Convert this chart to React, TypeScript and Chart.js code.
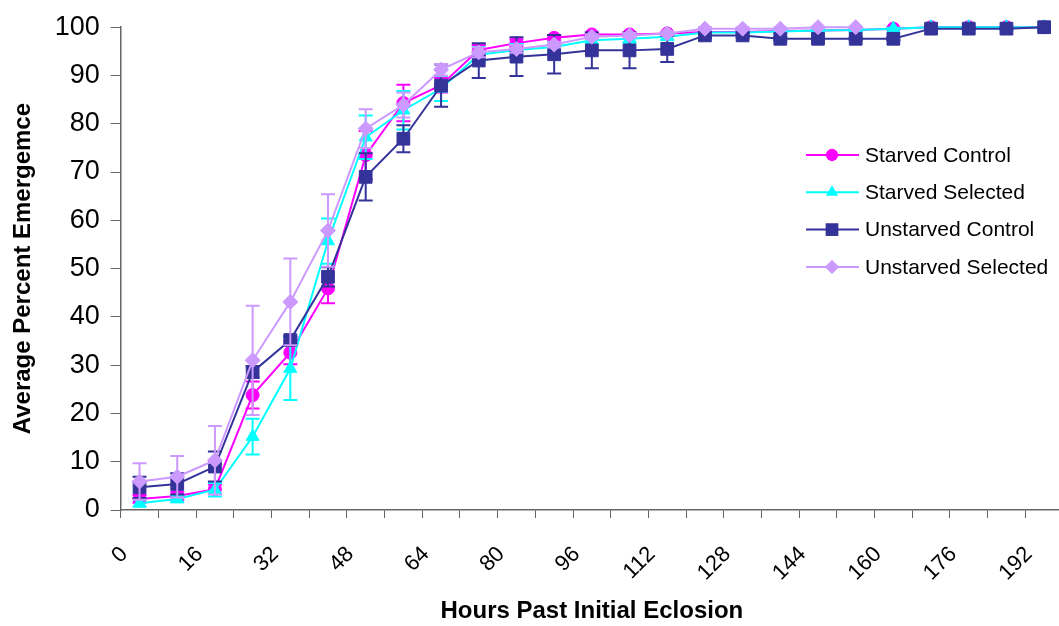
import React, { useEffect, useRef } from "react";
import { Chart, registerables } from "chart.js";

Chart.register(...registerables);

const hours = ["0", "8", "16", "24", "32", "40", "48", "56", "64", "72", "80", "88", "96", "104", "112", "120", "128", "136", "144", "152", "160", "168", "176", "184", "192"];

const seriesNames = ["Starved Control", "Starved Selected", "Unstarved Control", "Unstarved Selected"];
const seriesColors = ["#FF00FF", "#00FFFF", "#333399", "#CC99FF"];

const starvedControl = [2.3, 2.9, 4.3, 23.8, 32.6, 45.9, 73.5, 84.3, 88.0, 95.3, 96.7, 97.8, 98.5, 98.5, 98.7, 99.0, 99.0, 99.2, 99.3, 99.4, 99.7, 100, 100, 100, 100];
const starvedSelected = [1.4, 2.3, 4.2, 15.2, 29.3, 55.7, 77.2, 82.8, 87.3, 94.3, 95.3, 95.9, 97.3, 97.6, 98.0, 98.9, 98.9, 99.1, 99.3, 99.4, 99.7, 100, 100, 100, 100];
const unstarvedControl = [4.7, 5.4, 9.0, 28.6, 35.2, 48.3, 69.0, 76.9, 87.9, 93.1, 93.9, 94.4, 95.2, 95.2, 95.5, 98.3, 98.3, 97.6, 97.6, 97.6, 97.6, 99.7, 99.7, 99.7, 100];
const unstarvedSelected = [5.9, 6.9, 10.3, 31.0, 43.1, 57.9, 79.0, 83.9, 91.2, 94.8, 95.5, 96.4, 98.0, 98.3, 98.7, 99.7, 99.7, 99.7, 100, 100, null, null, null, null, null];

const starvedControlErr = [0.8, 0.9, 1.0, 2.8, 2.4, 3.1, 5.0, 3.8, 1.5, 1.0, 0.8, 0.6, 0.4, 0.4, 0.3, 0.3, 0.3, 0.3, 0.2, 0.2, 0.2, 0, 0, 0, 0];
const starvedSelectedErr = [0.7, 0.7, 1.4, 3.7, 6.5, 4.7, 4.5, 4.0, 2.6, 1.6, 1.2, 1.0, 0.8, 0.8, 0.6, 0.4, 0.4, 0.3, 0.3, 0.3, 0.2, 0, 0, 0, 0];
const unstarvedControlErr = [2.2, 2.2, 3.1, 1.2, 0.8, 2.0, 4.9, 2.8, 4.4, 3.6, 4.0, 4.0, 3.7, 3.7, 2.7, 0.5, 0.5, 0.3, 0.3, 0.3, 0.3, 0.2, 0.2, 0.2, 0];
const unstarvedSelectedErr = [3.8, 4.3, 7.1, 11.3, 9.0, 7.5, 4.0, 2.6, 1.2, 1.0, 0.8, 0.6, 0.5, 0.5, 0.4, 0.3, 0.3, 0.2, 0, 0, 0, 0, 0, 0, 0];

const pointStyles = ["circle", "triangle", "rect", "rectRot"];
const pointRadii = [6.5, 7.5, 9, 7.5];

const FONT = '"Liberation Sans", Arial, sans-serif';

function drawMarker(ctx: CanvasRenderingContext2D, style: string, x: number, y: number, r: number, color: string) {
  ctx.save();
  ctx.fillStyle = color;
  ctx.beginPath();
  if (style === "circle") {
    ctx.arc(x, y, r, 0, Math.PI * 2);
  } else if (style === "triangle") {
    ctx.moveTo(x, y - r);
    ctx.lineTo(x + r * Math.sin((2 * Math.PI) / 3), y - r * Math.cos((2 * Math.PI) / 3));
    ctx.lineTo(x + r * Math.sin((4 * Math.PI) / 3), y - r * Math.cos((4 * Math.PI) / 3));
    ctx.closePath();
  } else if (style === "rect") {
    const h = r / Math.SQRT2;
    ctx.rect(x - h, y - h, 2 * h, 2 * h);
  } else {
    ctx.moveTo(x, y - r);
    ctx.lineTo(x + r, y);
    ctx.lineTo(x, y + r);
    ctx.lineTo(x - r, y);
    ctx.closePath();
  }
  ctx.fill();
  ctx.restore();
}

export default function App() {
  const ref = useRef<HTMLCanvasElement>(null);

  useEffect(() => {
    document.body.style.margin = "0";
    const errs = [starvedControlErr, starvedSelectedErr, unstarvedControlErr, unstarvedSelectedErr];
    const values = [starvedControl, starvedSelected, unstarvedControl, unstarvedSelected];

    const errorBars = {
      id: "errorBars",
      beforeDatasetDraw(chart: any, args: any) {
        const i = args.index;
        const meta = args.meta;
        const ys = chart.scales.y;
        const ctx = chart.ctx as CanvasRenderingContext2D;
        ctx.save();
        ctx.strokeStyle = seriesColors[i];
        ctx.lineWidth = 2;
        meta.data.forEach((pt: any, j: number) => {
          const v = values[i][j];
          const e = errs[i][j];
          if (v == null || !e) return;
          const x = pt.x;
          const y1 = ys.getPixelForValue(v + e);
          const y2 = ys.getPixelForValue(v - e);
          ctx.beginPath();
          ctx.moveTo(x, y1);
          ctx.lineTo(x, y2);
          ctx.moveTo(x - 7, y1);
          ctx.lineTo(x + 7, y1);
          ctx.moveTo(x - 7, y2);
          ctx.lineTo(x + 7, y2);
          ctx.stroke();
        });
        ctx.restore();
      },
    };

    const xLabels = {
      id: "xLabels",
      afterDraw(chart: any) {
        const ctx = chart.ctx as CanvasRenderingContext2D;
        const xs = chart.scales.x;
        const bottom = chart.chartArea.bottom;
        ctx.save();
        ctx.font = `22px ${FONT}`;
        ctx.fillStyle = "#000";
        ctx.textAlign = "right";
        ctx.textBaseline = "alphabetic";
        hours.forEach((h, i) => {
          if (i % 2 !== 0) return;
          const cx = xs.getPixelForValue(i);
          ctx.save();
          ctx.translate(cx - 11, bottom + 45);
          ctx.rotate(-Math.PI / 4);
          ctx.fillText(h, 0, 0);
          ctx.restore();
        });
        ctx.restore();
      },
    };

    const customLegend = {
      id: "customLegend",
      afterDraw(chart: any) {
        const ctx = chart.ctx as CanvasRenderingContext2D;
        ctx.save();
        ctx.font = `21px ${FONT}`;
        ctx.textBaseline = "middle";
        ctx.textAlign = "left";
        seriesNames.forEach((name, k) => {
          const y = 155 + k * 37.3;
          ctx.strokeStyle = seriesColors[k];
          ctx.lineWidth = 2;
          ctx.beginPath();
          ctx.moveTo(806, y);
          ctx.lineTo(859, y);
          ctx.stroke();
          drawMarker(ctx, pointStyles[k], 832, y, pointRadii[k] * (k === 2 ? 1 : 0.95), seriesColors[k]);
          ctx.fillStyle = "#000";
          ctx.fillText(name, 865, y + 1);
        });
        ctx.restore();
      },
    };

    const chart = new Chart(ref.current!, {
      type: "line",
      data: {
        labels: hours,
        datasets: seriesNames.map((name, k) => ({
          label: name,
          data: values[k],
          borderColor: seriesColors[k],
          backgroundColor: seriesColors[k],
          pointBackgroundColor: seriesColors[k],
          pointBorderColor: seriesColors[k],
          pointBorderWidth: 1,
          pointStyle: pointStyles[k] as any,
          pointRadius: pointRadii[k],
          borderWidth: 2,
          tension: 0,
          clip: false as any,
          order: 3 - k,
        })),
      },
      options: {
        animation: false,
        responsive: true,
        maintainAspectRatio: false,
        layout: { autoPadding: false, padding: { top: 27, left: 0, right: 0, bottom: 0 } },
        plugins: {
          legend: { display: false },
          tooltip: { enabled: false },
        },
        scales: {
          x: {
            type: "category",
            offset: true,
            grid: { offset: true, drawOnChartArea: false, drawTicks: true, tickLength: 8, color: "#666", lineWidth: 1 },
            border: { display: true, color: "#666", width: 1.5 },
            ticks: {
              display: false,
              autoSkip: false,
            },
            title: {
              display: true,
              text: "Hours Past Initial Eclosion",
              color: "#000",
              font: { size: 24, weight: "bold", family: FONT },
              padding: { top: 0, bottom: 0 },
            },
            afterFit: (s: any) => {
              s.height = 116;
              s.paddingLeft = 0;
              s.paddingRight = 0;
            },
          },
          y: {
            min: 0,
            max: 100,
            grid: { drawOnChartArea: false, drawTicks: true, tickLength: 10, color: "#666", lineWidth: 1 },
            border: { display: true, color: "#666", width: 1.5 },
            ticks: {
              stepSize: 10,
              padding: 11,
              color: "#000",
              font: { size: 27, family: FONT },
            },
            title: {
              display: true,
              text: "Average Percent Emergemce",
              color: "#000",
              font: { size: 24, weight: "bold", family: FONT },
              padding: { top: 9, bottom: 0 },
            },
            afterFit: (s: any) => {
              s.width = 120.7;
            },
          },
        },
      },
      plugins: [errorBars, xLabels, customLegend],
    });
    return () => chart.destroy();
  }, []);

  return (
    <div style={{ position: "fixed", left: 0, top: 0, width: 1059, height: 626, overflow: "hidden", background: "#fff" }}>
      <div style={{ position: "relative", width: 1063, height: 626 }}>
        <canvas ref={ref} />
      </div>
    </div>
  );
}
